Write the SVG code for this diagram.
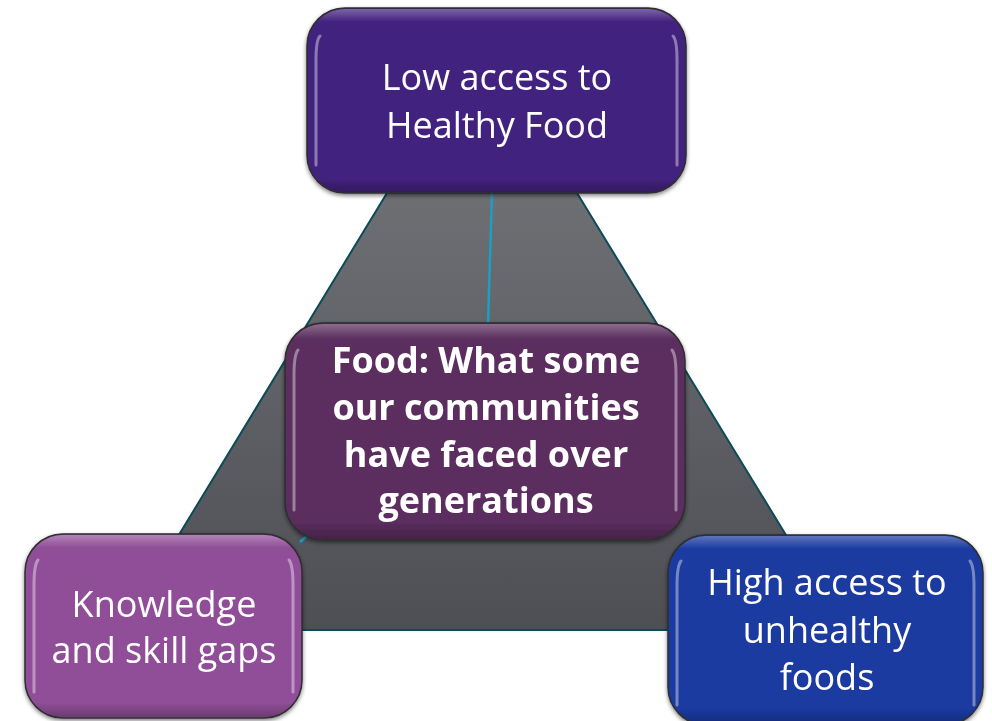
<svg xmlns="http://www.w3.org/2000/svg" width="992" height="721" viewBox="0 0 992 721">
<defs>
  <linearGradient id="gray" x1="0" y1="0" x2="0" y2="1">
    <stop offset="0" stop-color="#6e6f73"/>
    <stop offset="1" stop-color="#4e4f55"/>
  </linearGradient>
  <linearGradient id="edge" x1="0" y1="0" x2="0" y2="1">
    <stop offset="0" stop-color="#fff" stop-opacity="0.3"/>
    <stop offset="0.07" stop-color="#fff" stop-opacity="0"/>
    <stop offset="0.92" stop-color="#000" stop-opacity="0"/>
    <stop offset="1" stop-color="#000" stop-opacity="0.25"/>
  </linearGradient>
  <filter id="shadow" x="-10%" y="-10%" width="120%" height="125%">
    <feGaussianBlur in="SourceAlpha" stdDeviation="2"/>
    <feOffset dx="0" dy="2" result="b"/>
    <feComponentTransfer><feFuncA type="linear" slope="0.5"/></feComponentTransfer>
    <feMerge><feMergeNode/><feMergeNode in="SourceGraphic"/></feMerge>
  </filter>
</defs>
<style>
  .box { stroke: #2e2e2e; stroke-width: 1.5; }
  .hl { fill: none; stroke: #ffffff; stroke-opacity: 0.4; stroke-width: 3; stroke-linecap: round; }
  .t { font-family: "Open Sans", "Noto Sans", "Liberation Sans", sans-serif; font-size: 36px; fill: #ffffff; text-anchor: middle; }
  .b { font-weight: bold; }
  .conn { stroke: #1a9fc6; stroke-width: 2.5; fill: none; }
</style>

<g id="background-triangle">
  <polygon points="387,193 577,193 844,630 121,630" fill="url(#gray)" stroke="#0d4a5a" stroke-width="2"/>
</g>

<g id="connectors">
  <line class="conn" x1="492" y1="193" x2="488" y2="324"/>
  <line class="conn" x1="300" y1="542" x2="309" y2="534"/>
</g>

<g id="node-top" filter="url(#shadow)">
  <rect class="box" x="307" y="8" width="379" height="185" rx="38" fill="#43227f"/>
  <rect x="308" y="9" width="377" height="183" rx="37" fill="url(#edge)"/>
  <path class="hl" d="M320,36 Q316,40 316,60 L316,165"/>
  <path class="hl" d="M673,36 Q677,40 677,60 L677,165"/>
  <text class="t" x="497" y="90">Low access to</text>
  <text class="t" x="497" y="138">Healthy Food</text>
</g>

<g id="node-center" filter="url(#shadow)">
  <rect class="box" x="285" y="323" width="400" height="217" rx="38" fill="#5b2e5e"/>
  <rect x="286" y="324" width="398" height="215" rx="37" fill="url(#edge)"/>
  <path class="hl" d="M298,350 Q294,355 294,375 L294,510"/>
  <path class="hl" d="M672,350 Q676,355 676,375 L676,510"/>
  <text class="t b" x="486" y="373">Food: What some</text>
  <text class="t b" x="486" y="420">our communities</text>
  <text class="t b" x="486" y="467">have faced over</text>
  <text class="t b" x="486" y="513">generations</text>
</g>

<g id="node-left" filter="url(#shadow)">
  <rect class="box" x="25" y="534" width="277" height="184" rx="38" fill="#904e98"/>
  <rect x="26" y="535" width="275" height="182" rx="37" fill="url(#edge)"/>
  <path class="hl" d="M38,560 Q34,565 34,585 L34,692"/>
  <path class="hl" d="M289,560 Q293,565 293,585 L293,692"/>
  <text class="t" x="164" y="617">Knowledge</text>
  <text class="t" x="164" y="663">and skill gaps</text>
</g>

<g id="node-right" filter="url(#shadow)">
  <rect class="box" x="668" y="535" width="315" height="190" rx="38" fill="#1a3aa0"/>
  <rect x="669" y="536" width="313" height="188" rx="37" fill="url(#edge)"/>
  <path class="hl" d="M681,561 Q677,566 677,586 L677,705"/>
  <path class="hl" d="M970,561 Q974,566 974,586 L974,705"/>
  <text class="t" x="827" y="595">High access to</text>
  <text class="t" x="827" y="643">unhealthy</text>
  <text class="t" x="827" y="690">foods</text>
</g>
</svg>
